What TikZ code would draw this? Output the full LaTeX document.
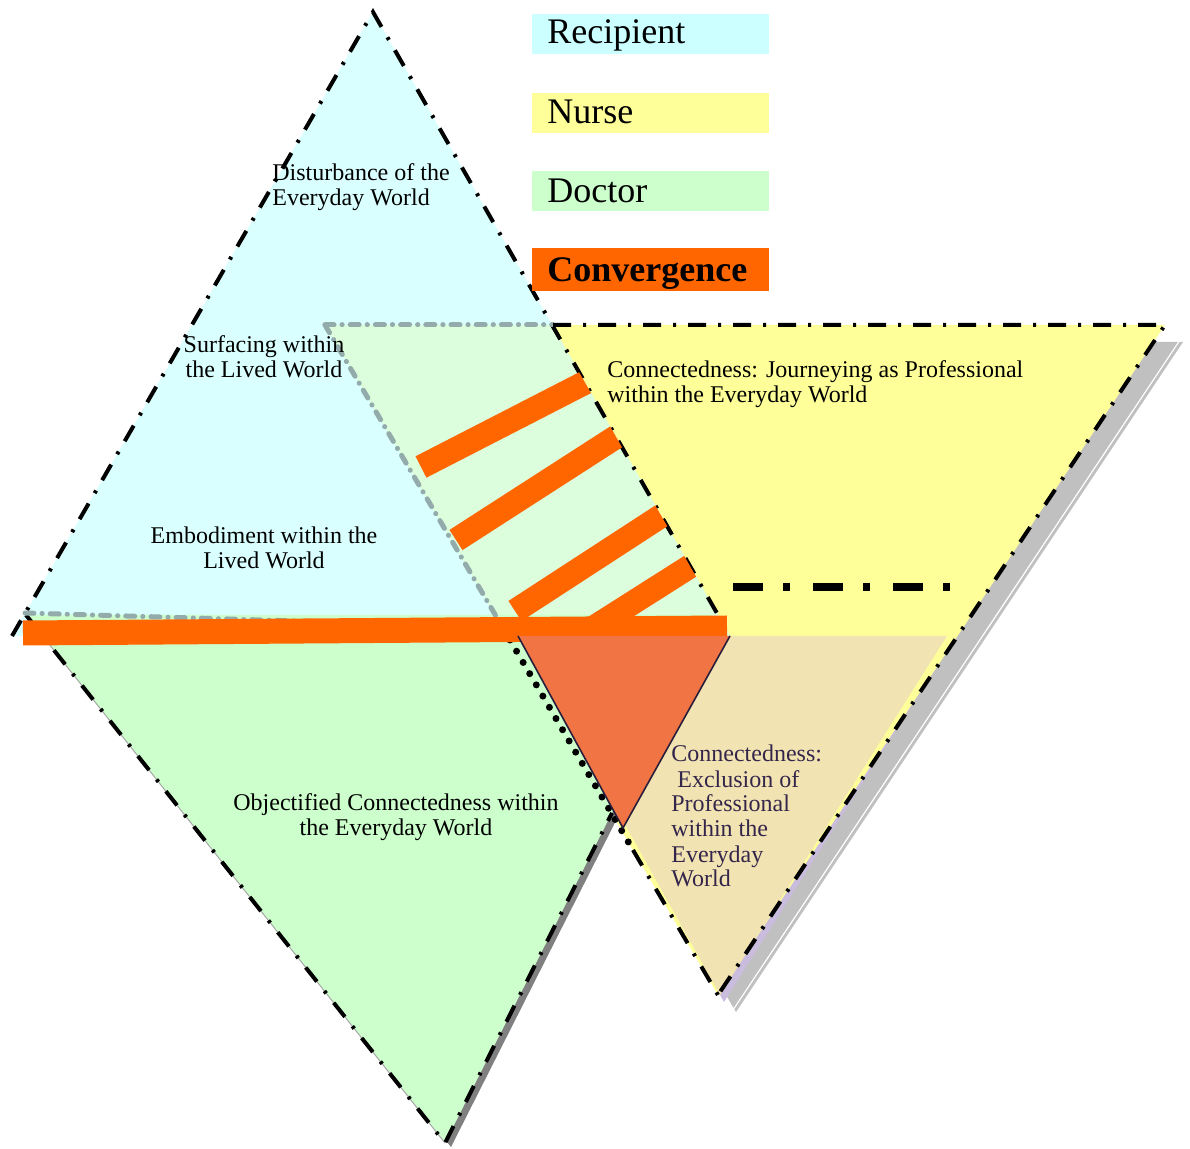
\documentclass[tikz,border=0pt]{standalone}
\usepackage{fontspec}
\setmainfont{Liberation Serif}
\begin{document}
\begin{tikzpicture}[x=0.5pt,y=-0.5pt]
% palette
\definecolor{recipfill}{HTML}{D9FFFF}
\definecolor{recipkey}{HTML}{CCFFFF}
\definecolor{nursefill}{HTML}{FFFF99}
\definecolor{docfill}{HTML}{CCFFCC}
\definecolor{mixfill}{HTML}{DCFEDC}
\definecolor{tanfill}{HTML}{F2E3B3}
\definecolor{convorange}{HTML}{FF6600}
\definecolor{convtri}{HTML}{F07444}
\definecolor{shadowgray}{HTML}{C0C0C0}
\definecolor{docshadow}{HTML}{808080}
\definecolor{lavender}{HTML}{C9BCDD}
\definecolor{slateedge}{HTML}{93ABAB}
\definecolor{plum}{HTML}{33264A}
\tikzset{
  edgedd/.style={draw=black, line width=2pt, dash pattern=on 9pt off 6pt on 1.5pt off 6pt},
  slatedd/.style={draw=slateedge, line width=2.5pt, line cap=round, dash pattern=on 4.5pt off 4pt on 0.1pt off 4pt},
  dotrow/.style={draw=black, line width=3.5pt, line cap=round, dash pattern=on 0pt off 6.5pt},
  convbar/.style={draw=convorange, line width=12pt},
  legbox/.style={minimum width=118.5pt, minimum height=20pt, inner sep=0pt},
  legtext/.style={inner sep=0pt, font=\fontsize{18}{20}\selectfont},
  lbl/.style={inner sep=0pt, font=\fontsize{12}{12.5}\selectfont},
}
\useasboundingbox (0,0) rectangle (1190,1149);

% corner points of the three role triangles
\coordinate (CA) at (373,12);  \coordinate (CL) at (12,636);  \coordinate (CR) at (730,636);
\coordinate (YL) at (325,325); \coordinate (YR) at (1165,325); \coordinate (YB) at (718,995);
\coordinate (GL) at (26,615);  \coordinate (GR) at (712,615);  \coordinate (GB) at (445,1143);
\coordinate (TL) at (520,636); \coordinate (TR) at (947,636);  \coordinate (TB) at (720,995);
\coordinate (OL) at (518,636); \coordinate (OR) at (730,636);  \coordinate (OB) at (623,828);
\coordinate (GE) at (612,813);

% drop shadows
\fill[shadowgray] ([shift={(18,17)}]YL) -- ([shift={(18,17)}]YR) -- ([shift={(18,17)}]YB) -- cycle;
\draw[white, line width=0.6pt] ([shift={(15,15)}]YR) -- ([shift={(15,15)}]YB);
\fill[lavender] ([shift={(4,7)}]TL) -- ([shift={(4,7)}]TR) -- ([shift={(4,7)}]TB) -- cycle;

% nurse triangle
\fill[nursefill] (YL) -- (YR) -- (YB) -- cycle;
% recipient triangle
\fill[recipfill] (CA) -- (CR) -- (CL) -- cycle;
% recipient / nurse overlap
\begin{scope}
  \clip (CA) -- (CR) -- (CL) -- cycle;
  \fill[mixfill] (YL) -- (YR) -- (YB) -- cycle;
\end{scope}
% doctor triangle
\fill[docshadow] ([shift={(6,4)}]GL) -- ([shift={(6,4)}]GR) -- ([shift={(6,4)}]GB) -- cycle;
\fill[docfill] (GL) -- (GR) -- (GB) -- cycle;
% exclusion region
\fill[tanfill] (TL) -- (TR) -- (TB) -- cycle;

% outlines
\draw[edgedd] (CL) -- (CA) -- (CR);
\draw[slatedd] (YL) -- (553,325);
\draw[edgedd] (553,325) -- (YR) -- (YB);
\coordinate (Y1) at (510,640);
\coordinate (Y2) at (633,850);
\draw[slatedd] (YL) -- (Y1);
\draw[dotrow] (Y1) -- (Y2);
\draw[edgedd] (Y2) -- (YB);
\draw[gray!70, line width=0.5pt] (GL) -- (GB);
\draw[edgedd] (GL) -- (GB) -- (GE);
\coordinate (G1) at (330,622);
\draw[slatedd] (25,613) -- (G1);

% convergence bars
\begin{scope}
  \clip (CA) -- (CR) -- (CL) -- cycle;
  \draw[convbar] (421,467) -- (600,375);
  \draw[convbar] (456,540) -- (633,426);
  \draw[convbar] (515,611) -- (678,505);
  \draw[convbar] (593,628) -- (708,555);
\end{scope}
\coordinate (H1) at (23,633);
\coordinate (H2) at (727,628);
\draw[draw=convorange, line width=12.5pt] (H1) -- (H2);

% convergence triangle
\fill[convtri] (OL) -- (OR) -- (OB) -- cycle;
\draw[plum!80!black, line width=0.8pt] (OL) -- (OB) -- (OR);

% heavy dash-dot rule
\coordinate (D1) at (733,587);
\coordinate (D2) at (952,587);
\draw[black, line width=4pt, dash pattern=on 15pt off 10pt on 3.5pt off 11.5pt] (D1) -- (D2);

% key
\node[legbox, fill=recipkey] (keyR) at (650.5,34) {};
\node[legtext, anchor=base west] (keyRt) at (547,44) {Recipient};
\node[legbox, fill=nursefill] (keyN) at (650.5,113) {};
\node[legtext, anchor=base west] (keyNt) at (547,124) {Nurse};
\node[legbox, fill=docfill] (keyD) at (650.5,191) {};
\node[legtext, anchor=base west] (keyDt) at (547,203) {Doctor};
\node[legbox, fill=convorange, minimum height=21.5pt] (keyC) at (650.5,269.5) {};
\node[legtext, anchor=base west, font=\fontsize{18}{20}\selectfont\bfseries] (keyCt) at (547,282) {Convergence};

% region labels (anchored on the baseline of the last line)
\node[lbl, anchor=base west, align=left] (disturb) at (272,206) {Disturbance of the\\Everyday World};
\node[lbl, anchor=base, align=center] (surface) at (264,378) {Surfacing within\\the Lived World};
\node[lbl, anchor=base, align=center] (embody) at (264,569) {Embodiment within the\\Lived World};
\node[lbl, anchor=base west, align=left] (journey) at (607,403) {Connectedness: Journeying as Professional\\within the Everyday World};
\node[lbl, anchor=base, align=center] (objectified) at (396,836) {Objectified Connectedness within\\the Everyday World};
\node[lbl, anchor=base west, align=left, text=plum] (exclusion) at (671,887)
  {Connectedness:\\\hspace*{3pt}Exclusion of\\Professional\\within the\\Everyday\\World};
\end{tikzpicture}
\end{document}
